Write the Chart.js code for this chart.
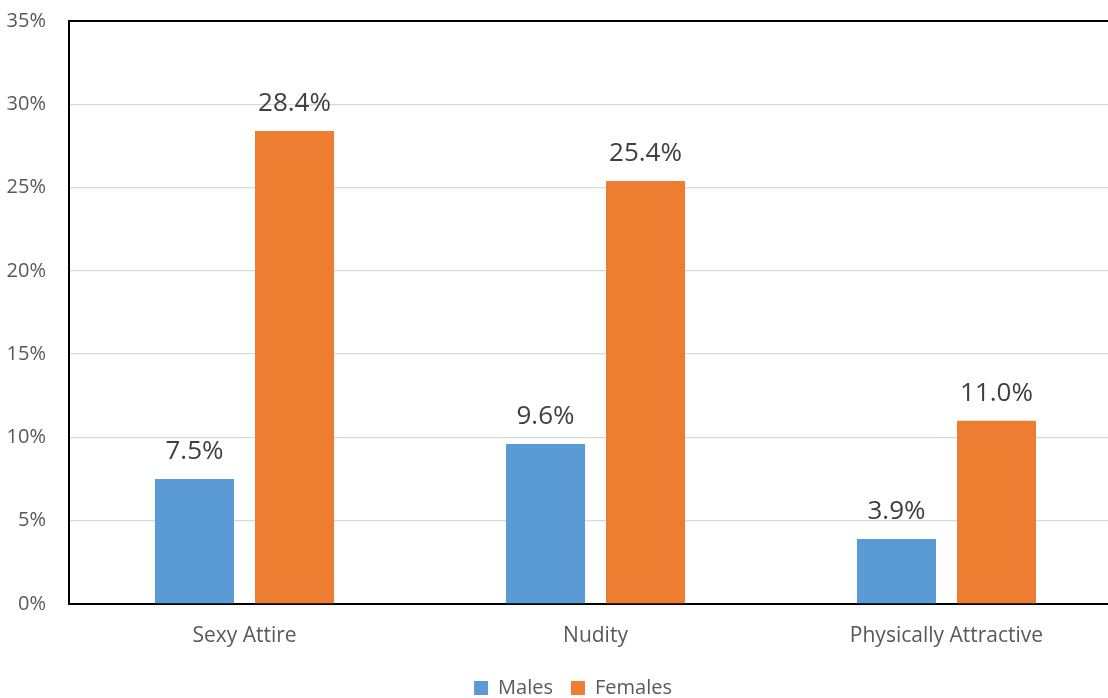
<!DOCTYPE html>
<html>
<head>
<meta charset="utf-8">
<script src="https://cdn.jsdelivr.net/npm/chart.js@4"></script>
<style>
html,body{margin:0;padding:0;background:#fff;overflow:hidden;width:1108px;height:698px;}
#wrap{width:1147px;height:698px;position:relative;}
</style>
</head>
<body>
<div id="wrap"><canvas id="c"></canvas></div>
<script>
const categories = ["Sexy Attire", "Nudity", "Physically Attractive"];
const males = [7.5, 9.6, 3.9];
const females = [28.4, 25.4, 11.0];
const seriesNames = ["Males", "Females"];
const yTicks = [0, 5, 10, 15, 20, 25, 30, 35];

const FONT = "'Open Sans', sans-serif";

const valueLabels = {
  id: 'valueLabels',
  afterDatasetsDraw(chart) {
    const ctx = chart.ctx;
    ctx.save();
    ctx.font = "26px " + FONT;
    ctx.fillStyle = "#404040";
    ctx.textAlign = "center";
    ctx.textBaseline = "bottom";
    chart.data.datasets.forEach((ds, di) => {
      chart.getDatasetMeta(di).data.forEach((bar, i) => {
        ctx.fillText(ds.data[i].toFixed(1) + "%", bar.x, bar.y - 14);
      });
    });
    ctx.restore();
  }
};

// centre the legend on the full (uncropped) chart width, like the original
const legendCentre = {
  id: 'legendCentre',
  afterLayout(chart) {
    const lg = chart.legend;
    if (lg) { lg.left += 24; }
  }
};

new Chart(document.getElementById('c'), {
  type: 'bar',
  data: {
    labels: categories,
    datasets: [
      { label: seriesNames[0], data: males, backgroundColor: '#5B9BD5', categoryPercentage: 0.57, barPercentage: 0.79 },
      { label: seriesNames[1], data: females, backgroundColor: '#ED7D31', categoryPercentage: 0.57, barPercentage: 0.79 }
    ]
  },
  options: {
    responsive: true,
    maintainAspectRatio: false,
    animation: false,
    layout: { autoPadding: false, padding: { top: 21, right: 25, left: 0, bottom: -10 } },
    plugins: {
      tooltip: { enabled: false },
      legend: {
        position: 'bottom',
        labels: {
          boxWidth: 14, boxHeight: 14, padding: 18,
          color: '#595959',
          font: { family: FONT, size: 20 }
        }
      }
    },
    scales: {
      x: {
        afterFit(s) { s.height = 56; },
        grid: { display: false, drawTicks: false },
        border: { display: true, color: '#000', width: 2 },
        ticks: { color: '#595959', padding: 19, font: { family: FONT, size: 21 } }
      },
      y: {
        min: 0, max: 35,
        afterFit(s) { s.width = 69; s.paddingTop = 0; s.paddingBottom = 0; },
        afterBuildTicks(s) { s.ticks = yTicks.map(v => ({ value: v })); },
        grid: {
          drawTicks: false,
          color: ctx => ctx.tick && ctx.tick.value === 35 ? '#000' : '#D9D9D9',
          lineWidth: ctx => ctx.tick && ctx.tick.value === 35 ? 2 : 1.3
        },
        border: { display: true, color: '#000', width: 2 },
        ticks: {
          color: '#595959', padding: 23,
          font: { family: FONT, size: 20 },
          callback: v => v + '%'
        }
      }
    }
  },
  plugins: [valueLabels, legendCentre]
});
</script>
</body>
</html>
